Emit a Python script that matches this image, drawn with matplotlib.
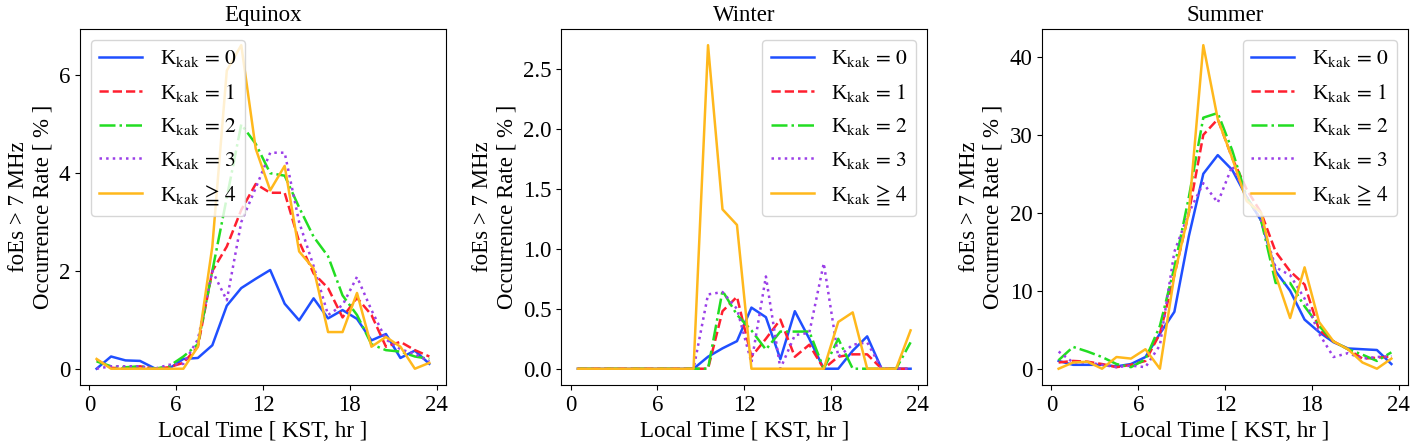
import numpy as np
import matplotlib
matplotlib.use("Agg")
import matplotlib.pyplot as plt

plt.rcParams['font.family'] = ['Liberation Serif', 'DejaVu Serif']
plt.rcParams['mathtext.fontset'] = 'stix'

hours = np.arange(24) + 0.5

# Equinox
eq_k0 = [0.0, 0.25, 0.17, 0.16, 0.01, 0.0, 0.2, 0.22, 0.48, 1.29, 1.65, 1.84,
         2.02, 1.33, 0.99, 1.44, 1.03, 1.2, 1.02, 0.58, 0.71, 0.22, 0.37, 0.1]
eq_k1 = [0.18, 0.02, 0.0, 0.05, 0.0, 0.03, 0.12, 0.45, 2.0, 2.5, 3.25, 3.78,
         3.6, 3.6, 2.6, 1.95, 1.65, 1.05, 1.45, 1.1, 0.45, 0.55, 0.38, 0.25]
eq_k2 = [0.15, 0.05, 0.03, 0.05, 0.0, 0.05, 0.25, 0.5, 2.0, 3.5, 5.0, 4.6,
         4.0, 3.95, 3.3, 2.7, 2.3, 1.5, 1.1, 0.5, 0.38, 0.35, 0.25, 0.2]
eq_k3 = [0.0, 0.05, 0.05, 0.05, 0.0, 0.08, 0.1, 0.6, 2.0, 1.4, 3.0, 3.7,
         4.42, 4.42, 3.0, 2.1, 1.1, 1.3, 1.88, 1.2, 0.6, 0.4, 0.3, 0.15]
eq_k4 = [0.2, 0.0, 0.0, 0.0, 0.0, 0.0, 0.0, 0.45, 2.5, 6.1, 6.62, 4.5,
         3.65, 4.15, 2.4, 2.05, 0.75, 0.75, 1.55, 0.45, 0.65, 0.45, 0.0, 0.12]

# Winter
wi_k0 = [0, 0, 0, 0, 0, 0, 0, 0, 0.0, 0.1, 0.17, 0.23,
         0.51, 0.43, 0.08, 0.48, 0.25, 0.0, 0.0, 0.15, 0.27, 0.0, 0.0, 0.0]
wi_k1 = [0, 0, 0, 0, 0, 0, 0, 0, 0.0, 0.0, 0.48, 0.6,
         0.1, 0.25, 0.41, 0.1, 0.2, 0.0, 0.1, 0.12, 0.12, 0.0, 0.0, 0.0]
wi_k2 = [0, 0, 0, 0, 0, 0, 0, 0, 0.0, 0.0, 0.65, 0.45,
         0.32, 0.16, 0.31, 0.31, 0.31, 0.0, 0.25, 0.0, 0.0, 0.0, 0.0, 0.22]
wi_k3 = [0, 0, 0, 0, 0, 0, 0, 0, 0.0, 0.62, 0.64, 0.5,
         0.05, 0.77, 0.0, 0.28, 0.3, 0.88, 0.1, 0.2, 0.22, 0.0, 0.0, 0.0]
wi_k4 = [0, 0, 0, 0, 0, 0, 0, 0, 0.0, 2.7, 1.33, 1.2,
         0.0, 0.0, 0.0, 0.0, 0.0, 0.0, 0.39, 0.47, 0.0, 0.0, 0.0, 0.32]

# Summer
su_k0 = [1.0, 0.5, 0.5, 0.5, 0.3, 0.6, 1.5, 4.5, 7.3, 17, 25, 27.4,
         25.5, 22, 19, 12.5, 10, 6.3, 4.7, 3.4, 2.6, 2.5, 2.4, 0.6]
su_k1 = [0.8, 1.0, 0.9, 0.6, 0.2, 0.5, 1.0, 4.5, 12, 20, 30, 32,
         27, 23, 20, 15, 12.5, 10.8, 5.0, 3.5, 2.5, 1.3, 1.4, 1.6]
su_k2 = [1.1, 2.8, 2.2, 1.5, 0.6, 0.2, 1.2, 5.5, 13, 22, 32.2, 32.8,
         28, 22, 19, 11, 11, 8, 5.5, 3.5, 2.5, 1.8, 1.0, 2.1]
su_k3 = [2.2, 0.8, 0.8, 0.5, 0.2, 0.4, 0.2, 3.0, 15, 20, 23.8, 21.3,
         26, 22, 19, 13, 12, 9, 4.5, 1.5, 2.0, 1.3, 1.5, 1.6]
su_k4 = [0.0, 0.8, 0.9, 0.0, 1.5, 1.3, 2.5, 0.0, 12, 20, 41.5, 32,
         27, 21.5, 20, 12, 6.5, 13, 6, 3.5, 2.5, 0.8, 0.0, 1.3]

titles = ['Equinox', 'Winter', 'Summer']
series = [[eq_k0, eq_k1, eq_k2, eq_k3, eq_k4],
          [wi_k0, wi_k1, wi_k2, wi_k3, wi_k4],
          [su_k0, su_k1, su_k2, su_k3, su_k4]]
labels = [r'K$_{\mathrm{kak}}\,=\,0$', r'K$_{\mathrm{kak}}\,=\,1$',
          r'K$_{\mathrm{kak}}\,=\,2$', r'K$_{\mathrm{kak}}\,=\,3$',
          r'K$_{\mathrm{kak}}\,\geqq\,4$']
yticks = [[0, 2, 4, 6], [0.0, 0.5, 1.0, 1.5, 2.0, 2.5], [0, 10, 20, 30, 40]]
colors = ['#1f4fff', '#ff1f2f', '#22dd22', '#9b3fe8', '#ffb81c']
styles = ['-', '--', '-.', ':', '-']
legend_loc = ['upper left', 'upper right', 'upper right']

fig = plt.figure(figsize=(14.1, 4.46), dpi=100)
lefts = [0.0567, 0.398, 0.739]
for i in range(3):
    ax = fig.add_axes([lefts[i], 0.137, 0.2596, 0.798])
    for j in range(5):
        ax.plot(hours, series[i][j], color=colors[j], linestyle=styles[j],
                linewidth=1.8, label=labels[j])
    ax.set_xticks([0, 6, 12, 18, 24])
    ax.set_yticks(yticks[i])
    ax.set_title(titles[i], fontsize=16.5)
    ax.set_xlabel('Local Time [ KST, hr ]', fontsize=16.5)
    ax.set_ylabel('foEs > 7 MHz\nOccurrence Rate [ % ]', fontsize=16.5)
    ax.tick_params(labelsize=16.5)
    ax.legend(loc=legend_loc[i], fontsize=15.5, handlelength=2.0,
              labelspacing=0.58)

fig.savefig('out.png', dpi=100)
